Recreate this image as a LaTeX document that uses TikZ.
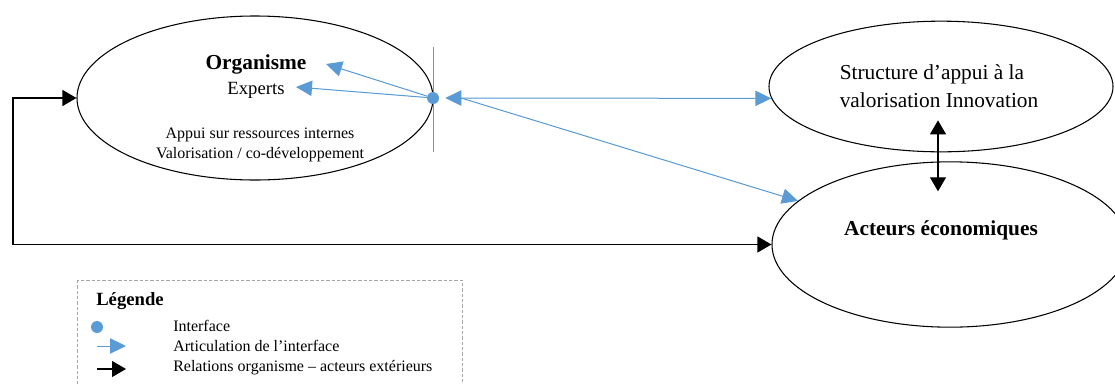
\documentclass[tikz,border=0pt]{standalone}
\usepackage{fontspec}
\setmainfont{Liberation Serif}
\usetikzlibrary{arrows.meta,positioning,calc,shapes.geometric}
\definecolor{ifblue}{HTML}{5B9BD5}
\definecolor{leggray}{HTML}{A6A6A6}

\begin{document}
\begin{tikzpicture}[
    x=0.75pt, y=-0.75pt,
    actor/.style={ellipse, draw, line width=0.8pt, inner sep=0pt},
    txt/.style={inner sep=0pt, font=\fontsize{12}{14.5}\selectfont},
    bigtxt/.style={inner sep=0pt, font=\fontsize{16}{21}\selectfont, align=left},
    ifdot/.style={circle, fill=ifblue, inner sep=0pt, minimum size=9pt},
    bluearrow/.style={-{Triangle[length=12pt, width=11.5pt]}, draw=ifblue, fill=ifblue, line width=0.75pt},
    blackarrow/.style={-{Triangle[length=10.5pt, width=12pt]}, line width=0.9pt}
]
\useasboundingbox (0,0) rectangle (1115,383);
\clip (0,0) rectangle (1115,383);

% Organisme
\node[actor, minimum width=267pt, minimum height=123pt] (org) at (255,98) {};
\node[txt, font=\fontsize{16}{19}\selectfont\bfseries] (orgname) at (256,64) {Organisme};
\node[txt, font=\fontsize{14}{17}\selectfont] (experts) at (256,90) {Experts};
\node[txt, align=center] (appui) at (260,145) {Appui sur ressources internes\\Valorisation / co-développement};

% Structure d'appui
\node[actor, minimum width=258pt, minimum height=98pt] (struct) at (941,86.5) {};
\node[bigtxt] (structname) at (939,86) {Structure d’appui à la\\valorisation Innovation};

% Acteurs economiques
\node[actor, minimum width=267pt, minimum height=124pt] (act) at (950,244.5) {};
\node[txt, font=\fontsize{16}{19}\selectfont\bfseries] (actname) at (941,230) {Acteurs économiques};

% Interface
\node[ifdot] (dot) at (433,98) {};
\draw[ifblue, line width=0.75pt] ($(dot)+(0,-51)$) -- ($(dot)+(0,54)$);
\coordinate (fork) at (461,98);

% Articulation de l'interface
\draw[bluearrow] (dot) -- (326,64);
\draw[bluearrow] (dot) -- (296,87);
\draw[bluearrow, {Triangle[length=12pt, width=11.5pt]}-{Triangle[length=12pt, width=11.5pt]}, shorten <=4.5pt] (dot) -- (struct.184);
\draw[bluearrow] (fork) -- (act.164.5);

% Relations organisme - acteurs exterieurs
\coordinate (corner) at (13,98);
\draw[blackarrow, {Triangle[length=10.5pt, width=12pt]}-{Triangle[length=10.5pt, width=12pt]}] (org.west) -- (corner) |- (act.west);
\draw[blackarrow, {Triangle[length=10.5pt, width=12pt]}-{Triangle[length=10.5pt, width=12pt]}] ([xshift=-2.25pt, yshift=24pt]struct.south) -- ([xshift=-9pt, yshift=-22.5pt]act.north);

% Legende
\draw[leggray, dashed, dash pattern=on 2.5pt off 1.5pt, line width=0.6pt] (77,280) rectangle (462,400);
\node[txt, anchor=west, font=\fontsize{14}{17}\selectfont\bfseries] (legtitle) at (96,301) {Légende};
\node[ifdot] (legdot) at (97,327) {};
\node[txt, anchor=west] (legdottxt) at (173,326) {Interface};
\coordinate (legblue) at (97,346);
\draw[bluearrow] (legblue) -- ++(29,0) coordinate (legbluetip);
\node[txt, anchor=west] (legbluetxt) at (173,346) {Articulation de l’interface};
\coordinate (legblack) at (97,369);
\draw[blackarrow] (legblack) -- ++(29,0) coordinate (legblacktip);
\node[txt, anchor=west] (legblacktxt) at (173,368) {Relations organisme – acteurs extérieurs};

\end{tikzpicture}
\end{document}
